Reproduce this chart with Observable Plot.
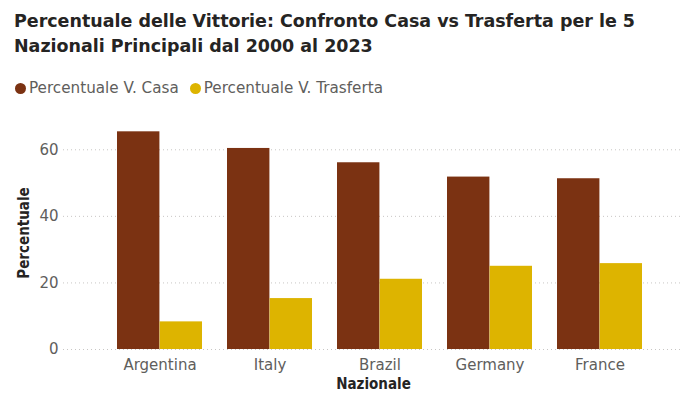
<!DOCTYPE html>
<html>
<head>
<meta charset="utf-8">
<script src="https://cdn.jsdelivr.net/npm/d3@7"></script>
<script src="https://cdn.jsdelivr.net/npm/@observablehq/plot@0.6"></script>
<style>
  html, body { margin: 0; padding: 0; background: #fff; }
  #wrap { width: 683px; height: 396px; position: relative; overflow: hidden; }
  #title { position: absolute; left: 14px; top: 9px; font-family: "DejaVu Sans Condensed", sans-serif; font-weight: bold; font-size: 17.5px; line-height: 25px; color: #252423; white-space: nowrap; transform-origin: 0 0; }
  #legend { position: absolute; left: 15px; top: 79px; font-family: "DejaVu Sans", sans-serif; font-size: 15.2px; color: #605E5C; display: flex; align-items: center; }
  #legend .item { display: flex; align-items: center; margin-right: 11px; }
  #legend .dot { width: 11px; height: 11px; border-radius: 50%; margin-right: 3px; }
  #chart { position: absolute; left: 0; top: 105px; }
  #chart svg { font-family: "DejaVu Sans", sans-serif; }
  g[aria-label="y-axis label"] text, g[aria-label="x-axis label"] text { font-family: "DejaVu Sans Condensed", sans-serif; font-weight: bold; fill: #252423; font-size: 15px; }
</style>
</head>
<body>
<div id="wrap">
  <div id="title">Percentuale delle Vittorie: Confronto Casa vs Trasferta per le 5<br>Nazionali Principali dal 2000 al 2023</div>
  <div id="legend"></div>
  <div id="chart"></div>
</div>
<script>
const nazionali = ["Argentina", "Italy", "Brazil", "Germany", "France"];
const casa = [65.4, 60.4, 56.1, 51.8, 51.3];
const trasferta = [8.3, 15.3, 21.1, 25.0, 25.8];
const serie = ["Percentuale V. Casa", "Percentuale V. Trasferta"];
const colori = ["#7B3212", "#DDB400"];
const yTicks = [0, 20, 40, 60];

// fit title width to reference (~621px for first line)
const title = document.getElementById("title");
const tw = title.getBoundingClientRect().width;
title.style.transform = `scaleX(${621 / tw})`;

const legend = document.getElementById("legend");
serie.forEach((s, i) => {
  const it = document.createElement("div");
  it.className = "item";
  it.innerHTML = `<span class="dot" style="background:${colori[i]}"></span><span>${s}</span>`;
  legend.appendChild(it);
});

const data = nazionali.map((n, i) => ({nazionale: n, casa: casa[i], trasferta: trasferta[i]}));

const W = 683, mL = 63, mR = 0;
const pIn = 0.227, pOut = 0.4265;
const step = (W - mL - mR) / (nazionali.length - pIn + 2 * pOut);
const half = step * (1 - pIn) / 2;

const plot = Plot.plot({
  width: W,
  height: 291,
  marginLeft: mL,
  marginRight: mR,
  marginTop: 11,
  marginBottom: 47,
  style: {fontSize: "15px", color: "#605E5C"},
  x: {domain: nazionali, paddingInner: pIn, paddingOuter: pOut, align: 0.564, label: "Nazionale", labelAnchor: "center", labelOffset: 39, tickSize: 0, tickPadding: 10},
  y: {domain: [0, 70], ticks: yTicks, label: "Percentuale", labelArrow: "none", labelAnchor: "center", labelOffset: 45, tickSize: 0, tickPadding: 5},
  marks: [
    Plot.gridY(yTicks, {stroke: "#C8C6C4", strokeOpacity: 1, strokeDasharray: "1,3"}),
    Plot.barY(data, {x: "nazionale", y: "casa", fill: colori[0], insetRight: half}),
    Plot.barY(data, {x: "nazionale", y: "trasferta", fill: colori[1], insetLeft: half})
  ]
});
document.getElementById("chart").appendChild(plot);
</script>
</body>
</html>
